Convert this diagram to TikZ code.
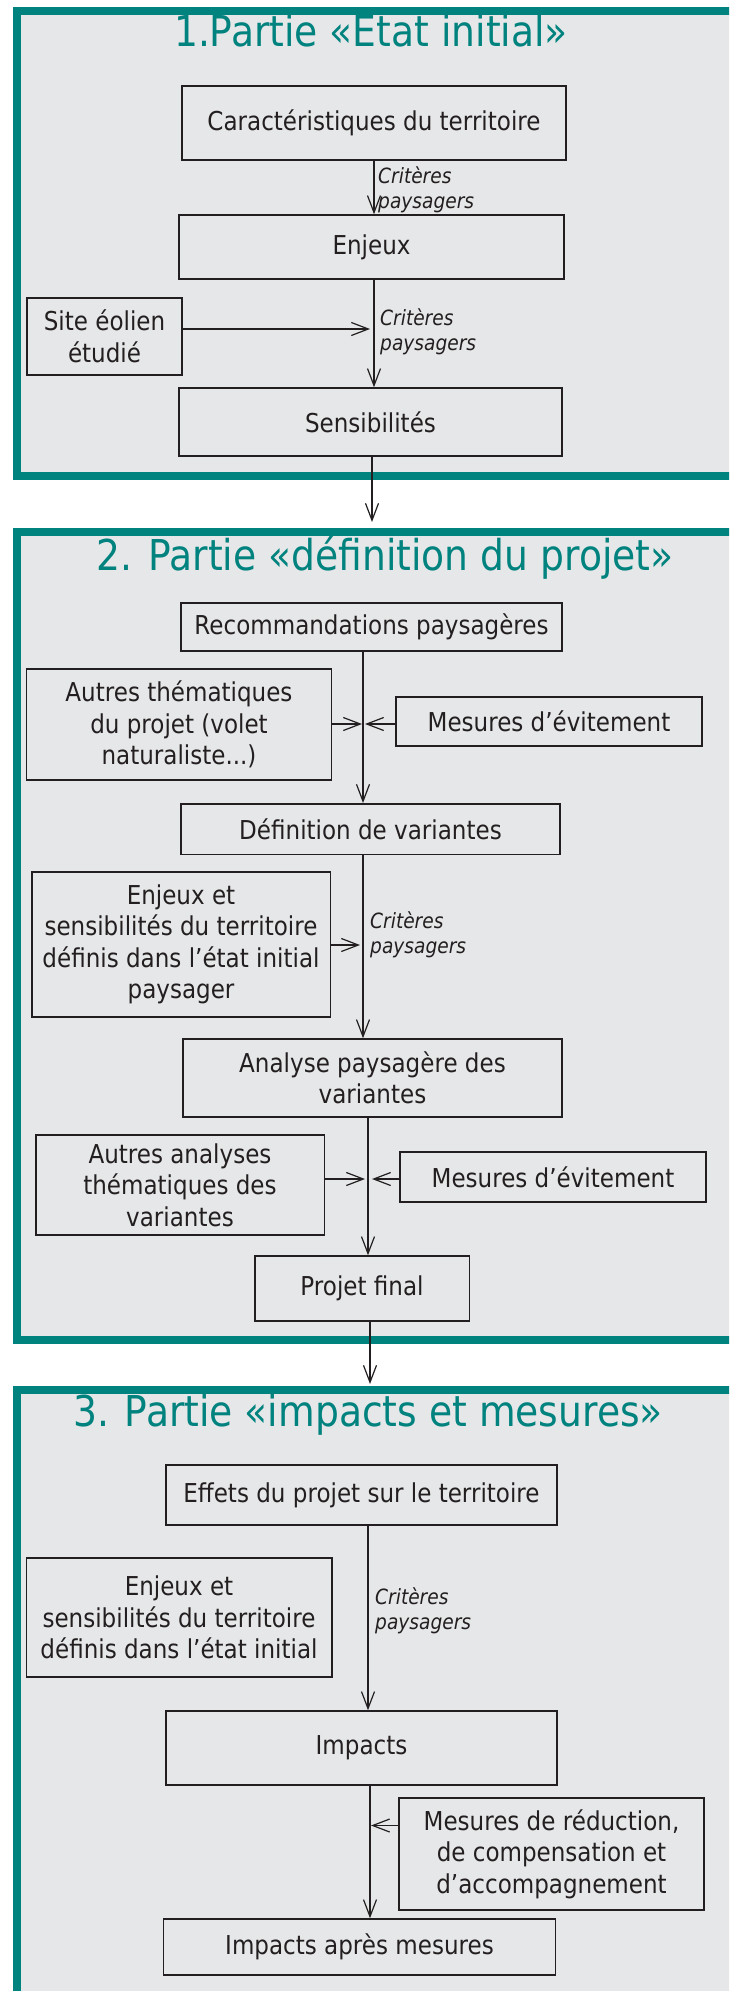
\documentclass[tikz,border=0pt]{standalone}
\usepackage{fontspec}
\setmainfont{DejaVu Sans}[FakeStretch=0.886]
\usetikzlibrary{arrows.meta,calc}
\definecolor{tealA}{RGB}{0,130,126}
\definecolor{panelgrey}{RGB}{230,231,232}
\definecolor{ink}{RGB}{35,31,32}
\tikzset{
 panel/.style={draw=tealA, line width=8.5pt, fill=panelgrey},
 ptitle/.style={text=tealA, font=\fontsize{42.5}{46}\selectfont, anchor=base, inner sep=0pt},
 box/.style={draw=ink, line width=1.5pt, inner sep=0pt, align=center, text=ink, font=\fontsize{26}{31.5}\selectfont},
 crit/.style={text=ink, font=\fontsize{21}{25}\selectfont\itshape, align=left, anchor=west, inner sep=0pt},
 flow/.style={draw=ink, line width=1.2pt, -{Straight Barb[length=17pt,width=13pt]}},
}
\begin{document}
\begin{tikzpicture}[x=1pt,y=-1pt]
\useasboundingbox (0,0) rectangle (729,1991);
\clip (0,0) rectangle (729,1991);
\fill[white] (0,0) rectangle (729,1991);

% panels
\path[panel] (17,11) rectangle (800,476);
\path[panel] (17,532) rectangle (800,1340);
\path[panel] (17,1390) rectangle (800,2100);

\node[ptitle] (t1) at (371,47) {1.Partie «Etat initial»};
\node[ptitle] (t2) at (385,570) {2. Partie «définition du projet»};
\node[ptitle] (t3) at (368,1426) {3. Partie «impacts et mesures»};

% panel 1
\node[box, minimum width=384, minimum height=74] (car) at (374,123) {Caractéristiques du territoire};
\node[box, minimum width=385, minimum height=64] (enj) at (371.5,247) {Enjeux};
\node[box, minimum width=155, minimum height=77] (site) at (104.5,336.5) {Site éolien\\étudié};
\node[box, minimum width=383, minimum height=68] (sen) at (370.5,422) {Sensibilités};

\coordinate (s1) at (374,0);
\draw[flow] (car.south -| s1) -- (enj.north -| s1);
\node[crit] (c1) at (378,190) {Critères\\paysagers};
\draw[flow] (enj.south -| s1) -- (sen.north -| s1);
\coordinate (a1) at (370,329);
\draw[flow] (site.east |- a1) -- (a1);
\node[crit] (c2) at (380,332) {Critères\\paysagers};
\coordinate (p2in) at (372,522);
\draw[flow] (sen.south -| p2in) -- (p2in);

% panel 2
\node[box, minimum width=381, minimum height=48] (rec) at (371.5,627) {Recommandations paysagères};
\node[box, minimum width=305, minimum height=111] (aut) at (179,724.5) {Autres thématiques\\du projet (volet\\naturaliste...)};
\node[box, minimum width=306, minimum height=49] (mes1) at (549,721.5) {Mesures d’évitement};
\node[box, minimum width=379, minimum height=50.5] (def) at (370.5,829) {Définition de variantes};
\node[box, minimum width=298.5, minimum height=145] (enj2) at (181,944.5) {Enjeux et\\sensibilités du territoire\\définis dans l’état initial\\paysager};
\node[box, minimum width=379, minimum height=78] (ana) at (372.5,1078) {Analyse paysagère des\\variantes};
\node[box, minimum width=288.5, minimum height=100] (aut2) at (180,1185) {Autres analyses\\thématiques des\\variantes};
\node[box, minimum width=306, minimum height=50] (mes2) at (553,1177) {Mesures d’évitement};
\node[box, minimum width=214.5, minimum height=65] (proj) at (362,1288.5) {Projet final};

\coordinate (s2) at (363,0);
\draw[flow] (rec.south -| s2) -- (def.north -| s2);
\coordinate (j1) at (362,724);
\draw[flow] (aut.east |- j1) -- (j1);
\coordinate (j2) at (365,724);
\draw[flow] (mes1.west |- j2) -- (j2);
\draw[flow] (def.south -| s2) -- (ana.north -| s2);
\coordinate (j3) at (360,945);
\draw[flow] (enj2.east |- j3) -- (j3);
\node[crit] (c3) at (370,934.5) {Critères\\paysagers};
\coordinate (s3) at (368,0);
\draw[flow] (ana.south -| s3) -- (proj.north -| s3);
\coordinate (j4) at (365,1179);
\draw[flow] (aut2.east |- j4) -- (j4);
\coordinate (j5) at (372,1179);
\draw[flow] (mes2.west |- j5) -- (j5);
\coordinate (p3in) at (370,1384);
\draw[flow] (proj.south -| p3in) -- (p3in);

% panel 3
\node[box, minimum width=391, minimum height=60] (eff) at (361.5,1495) {Effets du projet sur le territoire};
\node[box, minimum width=305.5, minimum height=119] (enj3) at (179,1617.5) {Enjeux et\\sensibilités du territoire\\définis dans l’état initial};
\node[box, minimum width=391, minimum height=74] (imp) at (361.5,1748) {Impacts};
\node[box, minimum width=305, minimum height=112] (mes3) at (551.5,1854) {Mesures de réduction,\\de compensation et\\d’accompagnement};
\node[box, minimum width=392, minimum height=56] (apr) at (359.5,1947) {Impacts après mesures};

\coordinate (s4) at (368,0);
\draw[flow] (eff.south -| s4) -- (imp.north -| s4);
\node[crit] (c4) at (375,1611) {Critères\\paysagers};
\coordinate (s5) at (370,0);
\draw[flow] (imp.south -| s5) -- (apr.north -| s5);
\coordinate (j6) at (371,1825.5);
\draw[flow] (mes3.west |- j6) -- (j6);
\end{tikzpicture}
\end{document}
